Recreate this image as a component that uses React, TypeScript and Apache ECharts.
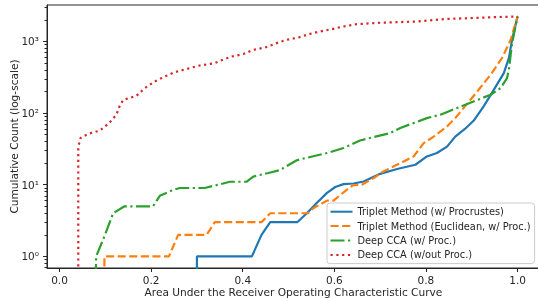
import React, { useEffect, useRef } from 'react';
import * as echarts from 'echarts';

const seriesNames = [
  'Triplet Method (w/ Procrustes)',
  'Triplet Method (Euclidean, w/ Proc.)',
  'Deep CCA (w/ Proc.)',
  'Deep CCA (w/out Proc.)',
];

const tripletProcrustes: [number, number][] = [
  [0.3, 0.5], [0.3, 1], [0.42, 1], [0.441, 2], [0.46, 3], [0.519, 3], [0.54, 4],
  [0.562, 5.6], [0.584, 7.7], [0.602, 9.3], [0.62, 10.2], [0.642, 10.4], [0.664, 11.1],
  [0.7, 14.2], [0.737, 16.6], [0.777, 19], [0.802, 24.8], [0.824, 27.7], [0.846, 34],
  [0.864, 47], [0.885, 60], [0.904, 78], [0.926, 124], [0.948, 211], [0.97, 361],
  [0.981, 585], [0.988, 1052], [1.0, 2225],
];

const tripletEuclidean: [number, number][] = [
  [0.098, 0.5], [0.098, 1], [0.239, 1], [0.259, 2], [0.321, 2], [0.339, 3], [0.441, 3],
  [0.46, 4], [0.543, 4], [0.554, 4.7], [0.584, 6], [0.598, 6], [0.627, 8.5], [0.64, 9.8],
  [0.66, 10], [0.686, 12.4], [0.707, 15.3], [0.744, 20], [0.773, 24.8], [0.795, 38],
  [0.817, 47], [0.846, 65], [0.864, 85], [0.879, 111], [0.912, 200], [0.941, 342],
  [0.966, 585], [0.985, 1052], [1.0, 2225],
];

const deepCcaProc: [number, number][] = [
  [0.079, 0.5], [0.08, 1], [0.098, 1.9], [0.117, 4], [0.142, 5], [0.204, 5], [0.219, 7],
  [0.248, 8.5], [0.263, 9], [0.317, 9], [0.372, 11], [0.408, 11], [0.423, 13],
  [0.456, 14.6], [0.481, 16], [0.518, 22], [0.554, 25], [0.584, 27.7], [0.62, 32.5],
  [0.656, 41.5], [0.722, 52.6], [0.744, 62], [0.802, 85], [0.832, 95], [0.886, 131],
  [0.941, 180], [0.963, 223], [0.977, 308], [0.981, 400], [0.988, 946], [1.0, 2225],
];

const deepCcaNoProc: [number, number][] = [
  [0.041, 0.5], [0.041, 34], [0.046, 45], [0.062, 51], [0.088, 57], [0.109, 73],
  [0.124, 95], [0.131, 124], [0.139, 153], [0.168, 174], [0.186, 223], [0.208, 276],
  [0.23, 324], [0.252, 373], [0.277, 411], [0.303, 457], [0.339, 498], [0.35, 536],
  [0.376, 615], [0.401, 665], [0.423, 763], [0.449, 822], [0.474, 946], [0.496, 1054],
  [0.522, 1133], [0.547, 1276], [0.569, 1374], [0.595, 1486], [0.62, 1616], [0.649, 1742],
  [0.7, 1820], [0.78, 1896], [0.84, 2050], [0.897, 2113], [0.95, 2180], [1.0, 2225],
];

const xTickValues = [0, 0.2, 0.4, 0.6, 0.8, 1.0];
const yTickValues = [1, 10, 100, 1000];
const yTickLabels = ['10⁰', '10¹', '10²', '10³'];
const yMinorTickValues = [
  0.7, 0.8, 0.9, 2, 3, 4, 5, 6, 7, 8, 9, 20, 30, 40, 50, 60, 70, 80, 90,
  200, 300, 400, 500, 600, 700, 800, 900, 2000, 3000,
];

const colors = ['#1f77b4', '#ff7f0e', '#2ca02c', '#d62728'];
const dashes: any[] = ['solid', [8.1, 3.5], [14, 3.5, 2.2, 3.5], [2.2, 3.6]];

export default function App() {
  const ref = useRef<HTMLDivElement>(null);
  useEffect(() => {
    const chart = echarts.init(ref.current!, null, { renderer: 'svg' });
    const ink = '#262626';
    const font = 'DejaVu Sans';
    const datasets = [tripletProcrustes, tripletEuclidean, deepCcaProc, deepCcaNoProc];
    const yMin = 0.689;
    const yMax = 3221;
    chart.setOption({
      animation: false,
      textStyle: { fontFamily: font },
      grid: {
        left: 47, top: 5, right: -2, bottom: 30,
        outerBoundsMode: 'none', containLabel: false,
        show: true, borderColor: ink, borderWidth: 1, backgroundColor: 'transparent',
      },
      xAxis: {
        type: 'value', min: -0.0273, max: 1.049,
        axisLine: { onZero: false, lineStyle: { color: ink, width: 1 } },
        axisTick: { customValues: xTickValues, length: 4, lineStyle: { color: ink } },
        axisLabel: {
          customValues: xTickValues, color: ink, fontSize: 10.5, margin: 6, fontFamily: font,
          formatter: (v: number) => v.toFixed(1),
        },
        splitLine: { show: false },
        name: 'Area Under the Receiver Operating Characteristic Curve',
        nameLocation: 'middle', nameGap: 18, nameMoveOverlap: false,
        nameTextStyle: { fontSize: 10.6, color: ink, fontFamily: font },
      },
      yAxis: [
        {
          type: 'log', logBase: 10, min: yMin, max: yMax,
          axisLine: { show: true, onZero: false, lineStyle: { color: ink, width: 1 } },
          axisTick: { show: true, customValues: yTickValues, length: 4, lineStyle: { color: ink, width: 1 } },
          axisLabel: {
            customValues: yTickValues, color: ink, fontSize: 10.5, margin: 8, fontFamily: font,
            formatter: (v: number) => yTickLabels[Math.round(Math.log10(v))] ?? '',
          },
          splitLine: { show: false },
          minorTick: { show: false },
          name: 'Cumulative Count (log-scale)',
          nameLocation: 'middle', nameGap: 28, nameRotate: 90, nameMoveOverlap: false,
          nameTextStyle: { fontSize: 10.6, color: ink, fontFamily: font },
        },
        {
          type: 'log', logBase: 10, min: yMin, max: yMax, position: 'left',
          axisLine: { show: false, onZero: false },
          axisTick: { show: true, customValues: yMinorTickValues, length: 2.5, lineStyle: { color: ink, width: 1 } },
          axisLabel: { show: false },
          splitLine: { show: false },
        },
      ],
      legend: {
        left: 327, top: 203, orient: 'vertical',
        itemWidth: 22, itemHeight: 10, itemGap: 4.4,
        padding: [3.7, 4, 3.7, 2.5],
        backgroundColor: 'rgba(255,255,255,0.8)',
        borderColor: '#cccccc', borderWidth: 1, borderRadius: 3,
        itemStyle: { opacity: 0, borderWidth: 0 },
        textStyle: { fontSize: 9.8, color: ink, fontFamily: font },
        data: seriesNames,
      },
      series: datasets.map((d, i) => ({
        type: 'line',
        name: seriesNames[i],
        data: d,
        yAxisIndex: 0,
        symbol: 'none',
        showSymbol: false,
        clip: true,
        lineStyle: { color: colors[i], width: 2.2, type: dashes[i] },
        itemStyle: { color: colors[i] },
      })),
    });
    return () => chart.dispose();
  }, []);
  return <div ref={ref} style={{ position: 'fixed', left: 0, top: 0, width: 538, height: 298 }} />;
}
